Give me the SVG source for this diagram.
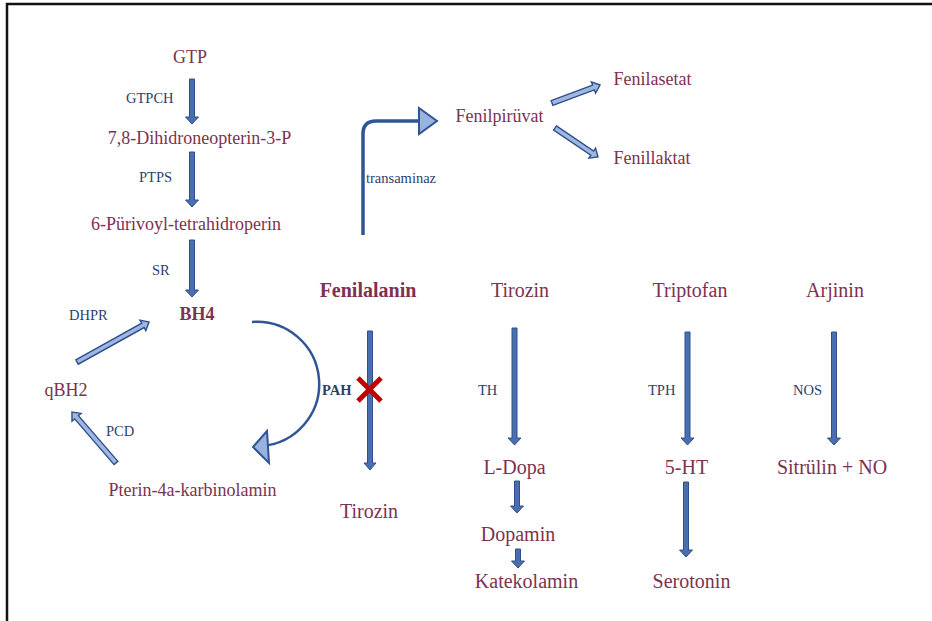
<svg xmlns="http://www.w3.org/2000/svg" width="932" height="621" viewBox="0 0 932 621">
  <style>
    .m { font-family: "Liberation Serif", "Times New Roman", serif; font-size: 18px; fill: #7d3250; text-anchor: middle; }
    .l { font-size: 20px; }
    .b { font-weight: bold; }
    .e { font-family: "Liberation Serif", "Times New Roman", serif; font-size: 14.5px; fill: #2b3f6b; }
    .blk { fill: #4a6eb0; stroke: #2e4f8c; stroke-width: 1; stroke-linejoin: miter; }
    .hol { fill: #9fb6e0; stroke: #2e4f8c; stroke-width: 1.4; stroke-linejoin: miter; }
    .line { fill: none; stroke: #2f5597; }
    .head { fill: #9ab2df; stroke: #2f5597; stroke-width: 2; stroke-linejoin: miter; }
  </style>

  <rect width="932" height="621" fill="#ffffff"/>
  <!-- frame -->
  <path d="M7,621 V4 H932" fill="none" stroke="#111111" stroke-width="2.5"/>

  <!-- BH4 synthesis and recycling -->
  <g id="gtp"><text class="m" x="190" y="63">GTP</text></g>
  <g id="dihidroneopterin"><text class="m" x="199.5" y="144">7,8-Dihidroneopterin-3-P</text></g>
  <g id="purivoyl"><text class="m" x="186" y="230">6-Pürivoyl-tetrahidroperin</text></g>
  <g id="bh4"><text class="m b" x="197" y="320">BH4</text></g>
  <g id="qbh2"><text class="m" x="66" y="396">qBH2</text></g>
  <g id="pterin"><text class="m" x="192.5" y="496">Pterin-4a-karbinolamin</text></g>

  <!-- phenylalanine branch -->
  <g id="fenilalanin"><text class="m l b" x="368" y="297">Fenilalanin</text></g>
  <g id="tirozin-out"><text class="m l" x="369" y="518">Tirozin</text></g>
  <g id="fenilpiruvat"><text class="m" x="499.5" y="122">Fenilpirüvat</text></g>
  <g id="fenilasetat"><text class="m" x="652.5" y="85">Fenilasetat</text></g>
  <g id="fenillaktat"><text class="m" x="652" y="164">Fenillaktat</text></g>

  <!-- tyrosine branch -->
  <g id="tirozin"><text class="m l" x="520" y="297">Tirozin</text></g>
  <g id="ldopa"><text class="m l" x="514.5" y="474">L-Dopa</text></g>
  <g id="dopamin"><text class="m l" x="518" y="541">Dopamin</text></g>
  <g id="katekolamin"><text class="m l" x="526.5" y="588">Katekolamin</text></g>

  <!-- tryptophan branch -->
  <g id="triptofan"><text class="m l" x="690" y="297">Triptofan</text></g>
  <g id="ht5"><text class="m l" x="686.5" y="474">5-HT</text></g>
  <g id="serotonin"><text class="m l" x="691.5" y="588">Serotonin</text></g>

  <!-- arginine branch -->
  <g id="arjinin"><text class="m l" x="835" y="297">Arjinin</text></g>
  <g id="sitrulin"><text class="m l" x="832" y="474">Sitrülin + NO</text></g>

  <g id="connectors">
    <!-- vertical block arrows -->
    <polygon class="blk" points="189.5,79 194.5,79 194.5,117 198.5,117 192,124 185.5,117 189.5,117"/>
    <polygon class="blk" points="189.5,152 194.5,152 194.5,200 198.5,200 192,207 185.5,200 189.5,200"/>
    <polygon class="blk" points="189.5,240 194.5,240 194.5,290 198.5,290 192,297 185.5,290 189.5,290"/>
    <polygon class="blk" points="367.5,331 372.5,331 372.5,463 376,463 370,470 364,463 367.5,463"/>
    <polygon class="blk" points="512,328 517,328 517,438 521,438 514.5,445 508,438 512,438"/>
    <polygon class="blk" points="514.5,481 519.5,481 519.5,506 523.5,506 517,513 510.5,506 514.5,506"/>
    <polygon class="blk" points="515.5,549 520.5,549 520.5,561 524.5,561 518,568 511.5,561 515.5,561"/>
    <polygon class="blk" points="685,332 690,332 690,438 694,438 687.5,445 681,438 685,438"/>
    <polygon class="blk" points="683.5,482 688.5,482 688.5,550 692.5,550 686,557 679.5,550 683.5,550"/>
    <polygon class="blk" points="831.5,332 836.5,332 836.5,438 840.5,438 834,445 827.5,438 831.5,438"/>

    <!-- diagonal arrows -->
    <polygon class="hol" transform="translate(77,362) rotate(-29.05)" points="0,-2.5 75.4,-2.5 75.4,-6 82.4,0 75.4,6 75.4,2.5 0,2.5"/>
    <polygon class="hol" transform="translate(116,463) rotate(-130.8)" points="0,-2.5 60.4,-2.5 60.4,-6 67.4,0 60.4,6 60.4,2.5 0,2.5"/>
    <polygon class="hol" transform="translate(552,103) rotate(-20.56)" points="0,-2.5 44.3,-2.5 44.3,-6 51.3,0 44.3,6 44.3,2.5 0,2.5"/>
    <polygon class="hol" transform="translate(555,128) rotate(34)" points="0,-2.5 44.9,-2.5 44.9,-6 51.9,0 44.9,6 44.9,2.5 0,2.5"/>

    <!-- BH4 consumed by the hydroxylase -->
    <path class="line" stroke-width="2.5" d="M252,322 A62,62 0 0 1 262,446"/>
    <polygon class="head" points="253,447 267,431 269,463"/>

    <!-- transamination elbow -->
    <path class="line" stroke-width="3.5" d="M363,235 V134 Q363,121 376,121 H419"/>
    <polygon class="head" points="419,108 437,121 419,134"/>

    <!-- blocked PAH step -->
    <g stroke="#c00000" stroke-width="5" stroke-linecap="butt">
      <line x1="358" y1="378" x2="381" y2="401"/>
      <line x1="381" y1="378" x2="358" y2="401"/>
    </g>
  </g>

  <!-- enzyme labels -->
  <g id="labels">
    <text class="e" x="126" y="103">GTPCH</text>
    <text class="e" x="139" y="182">PTPS</text>
    <text class="e" x="152" y="275">SR</text>
    <text class="e" x="69" y="320">DHPR</text>
    <text class="e" x="106" y="436">PCD</text>
    <text class="e b" x="322" y="395">PAH</text>
    <text class="e" x="478" y="395">TH</text>
    <text class="e" x="648" y="395">TPH</text>
    <text class="e" x="793" y="395">NOS</text>
    <text class="e" x="366" y="183" font-size="13.5">transaminaz</text>
  </g>
</svg>
